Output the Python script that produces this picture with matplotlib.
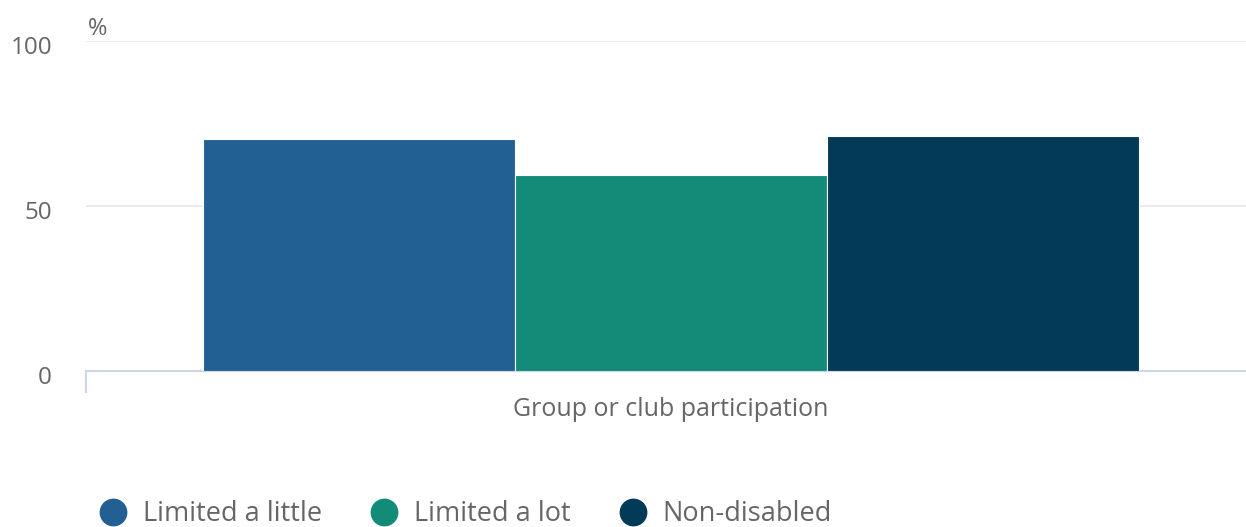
import matplotlib.pyplot as plt
from matplotlib.lines import Line2D

plt.rcParams['font.family'] = ['Open Sans', 'DejaVu Sans']

category = "Group or club participation"
series = ["Limited a little", "Limited a lot", "Non-disabled"]
values = [70.2, 59.4, 71.1]
colors = ["#226094", "#138b79", "#033a57"]
y_ticks = [0, 50, 100]

text_grey = "#666666"

fig = plt.figure(figsize=(12.46, 5.27), dpi=100)
ax = fig.add_axes([86 / 1246, 1 - 371 / 527, 1160 / 1246, 330 / 527])

positions = [-1, 0, 1]
for pos, val, col in zip(positions, values, colors):
    ax.bar(pos, val, width=1.0, color=col, edgecolor="white", linewidth=0.8, zorder=3)

ax.set_xlim(-1.875, 1.843)
ax.set_ylim(0, 100)
ax.set_yticks(y_ticks)
ax.set_yticklabels([])
ax.tick_params(axis="y", length=0)
ax.set_xticks([])

# y labels sit a little below their grid lines
for t in y_ticks:
    ax.text(-34 / 1160, t - 1.3, str(t), transform=ax.get_yaxis_transform(),
            ha="right", va="center_baseline", fontsize=17.5, color=text_grey)

ax.grid(axis="y", color="#e6e6e6", linewidth=1.2, zorder=0)
for side in ["top", "right", "left"]:
    ax.spines[side].set_visible(False)
ax.spines["bottom"].set_color("#ccd6eb")
ax.spines["bottom"].set_linewidth(1.5)

# category boundary tick below the axis
ax.plot([-1.875, -1.875], [0, -6.3], color="#ccd6eb", linewidth=1.5, clip_on=False)

ax.text(0.0, -11.8, category, ha="center", va="center", fontsize=18, color=text_grey)
ax.text(-1.87, 100.0, "%", ha="left", va="bottom", fontsize=17, color=text_grey)

handles = [Line2D([0], [0], marker="o", linestyle="", markersize=19,
                  markerfacecolor=c, markeredgecolor=c, label=s)
           for s, c in zip(series, colors)]
fig.legend(handles=handles, loc="center left", bbox_to_anchor=(75 / 1246, 1 - 514 / 527),
           ncol=3, frameon=False, fontsize=19.5, labelcolor=text_grey,
           handletextpad=0.6, columnspacing=1.8, handlelength=1.0)

fig.savefig("out.png", dpi=100)
